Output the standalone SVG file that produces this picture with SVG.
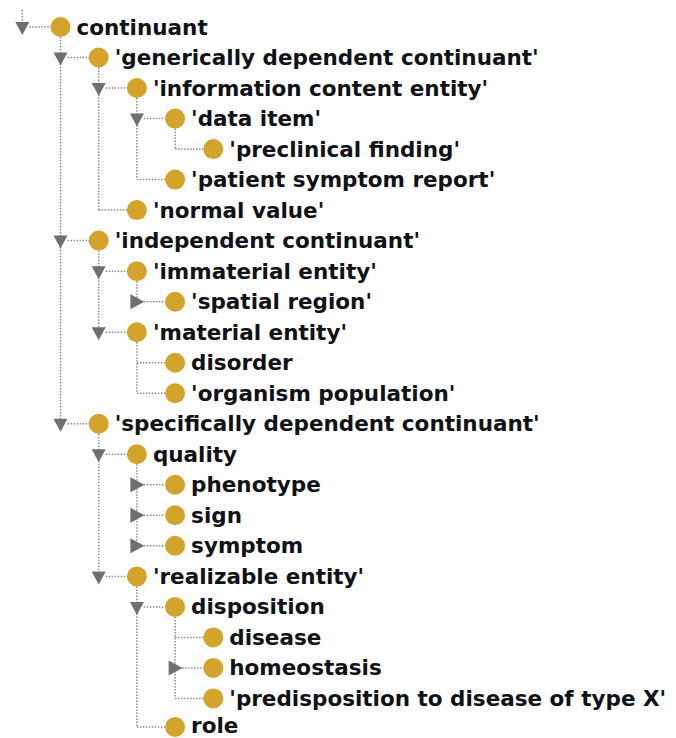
<svg xmlns="http://www.w3.org/2000/svg" width="676" height="738" viewBox="0 0 676 738">
<style>
.bg{fill:#ffffff}
.dot{fill:none;stroke:#8c8c8c;stroke-width:1.5;stroke-dasharray:1.5 1.5}
.tri{fill:#707070}
.cls{fill:#d3a42c}
.lbl{font-family:"DejaVu Sans",Verdana,sans-serif;font-weight:bold;font-size:21.5px;fill:#111118}
</style>
<rect class="bg" x="0" y="0" width="676" height="738"/>
<g id="connectors">
<path class="dot" d="M22.3 10V23"/>
<path class="dot" d="M60.5 37V423.8"/>
<path class="dot" d="M98.7 67.5V210.1"/>
<path class="dot" d="M136.9 98V179.6"/>
<path class="dot" d="M175.1 128.6V149.1"/>
<path class="dot" d="M98.7 250.6V332.2"/>
<path class="dot" d="M136.9 281.2V301.7"/>
<path class="dot" d="M136.9 342.2V393.2"/>
<path class="dot" d="M98.7 433.8V576.4"/>
<path class="dot" d="M136.9 464.3V545.8"/>
<path class="dot" d="M136.9 586.4V727"/>
<path class="dot" d="M175.1 616.9V698.4"/>
<path class="dot" d="M29.3 27H51"/>
<path class="dot" d="M67.5 57.5H89.2"/>
<path class="dot" d="M105.7 88H127.4"/>
<path class="dot" d="M143.9 118.6H165.6"/>
<path class="dot" d="M175.1 149.1H203.8"/>
<path class="dot" d="M136.9 179.6H165.6"/>
<path class="dot" d="M98.7 210.1H127.4"/>
<path class="dot" d="M67.5 240.6H89.2"/>
<path class="dot" d="M105.7 271.2H127.4"/>
<path class="dot" d="M143.9 301.7H165.6"/>
<path class="dot" d="M105.7 332.2H127.4"/>
<path class="dot" d="M136.9 362.7H165.6"/>
<path class="dot" d="M136.9 393.2H165.6"/>
<path class="dot" d="M67.5 423.8H89.2"/>
<path class="dot" d="M105.7 454.3H127.4"/>
<path class="dot" d="M143.9 484.8H165.6"/>
<path class="dot" d="M143.9 515.3H165.6"/>
<path class="dot" d="M143.9 545.8H165.6"/>
<path class="dot" d="M105.7 576.4H127.4"/>
<path class="dot" d="M143.9 606.9H165.6"/>
<path class="dot" d="M175.1 637.4H203.8"/>
<path class="dot" d="M182.1 667.9H203.8"/>
<path class="dot" d="M175.1 698.4H203.8"/>
<path class="dot" d="M136.9 727H165.6"/>
</g>
<g id="n-continuant"><polygon class="tri" points="15.3,22 29.3,22 22.3,35"/><circle class="cls" cx="60.5" cy="27" r="10"/><text class="lbl" x="76.5" y="34.5">continuant</text></g>
<g id="n-generically-dependent-continuant"><polygon class="tri" points="53.5,52.5 67.5,52.5 60.5,65.5"/><circle class="cls" cx="98.7" cy="57.5" r="10"/><text class="lbl" x="114.7" y="65">'generically dependent continuant'</text></g>
<g id="n-information-content-entity"><polygon class="tri" points="91.7,83 105.7,83 98.7,96"/><circle class="cls" cx="136.9" cy="88" r="10"/><text class="lbl" x="152.9" y="95.5">'information content entity'</text></g>
<g id="n-data-item"><polygon class="tri" points="129.9,113.6 143.9,113.6 136.9,126.6"/><circle class="cls" cx="175.1" cy="118.6" r="10"/><text class="lbl" x="191.1" y="126.1">'data item'</text></g>
<g id="n-preclinical-finding"><circle class="cls" cx="213.3" cy="149.1" r="10"/><text class="lbl" x="229.3" y="156.6">'preclinical finding'</text></g>
<g id="n-patient-symptom-report"><circle class="cls" cx="175.1" cy="179.6" r="10"/><text class="lbl" x="191.1" y="187.1">'patient symptom report'</text></g>
<g id="n-normal-value"><circle class="cls" cx="136.9" cy="210.1" r="10"/><text class="lbl" x="152.9" y="217.6">'normal value'</text></g>
<g id="n-independent-continuant"><polygon class="tri" points="53.5,235.6 67.5,235.6 60.5,248.6"/><circle class="cls" cx="98.7" cy="240.6" r="10"/><text class="lbl" x="114.7" y="248.1">'independent continuant'</text></g>
<g id="n-immaterial-entity"><polygon class="tri" points="91.7,266.2 105.7,266.2 98.7,279.2"/><circle class="cls" cx="136.9" cy="271.2" r="10"/><text class="lbl" x="152.9" y="278.7">'immaterial entity'</text></g>
<g id="n-spatial-region"><polygon class="tri" points="130.4,294.2 130.4,309.2 144.4,301.7"/><circle class="cls" cx="175.1" cy="301.7" r="10"/><text class="lbl" x="191.1" y="309.2">'spatial region'</text></g>
<g id="n-material-entity"><polygon class="tri" points="91.7,327.2 105.7,327.2 98.7,340.2"/><circle class="cls" cx="136.9" cy="332.2" r="10"/><text class="lbl" x="152.9" y="339.7">'material entity'</text></g>
<g id="n-disorder"><circle class="cls" cx="175.1" cy="362.7" r="10"/><text class="lbl" x="191.1" y="370.2">disorder</text></g>
<g id="n-organism-population"><circle class="cls" cx="175.1" cy="393.2" r="10"/><text class="lbl" x="191.1" y="400.7">'organism population'</text></g>
<g id="n-specifically-dependent-continuant"><polygon class="tri" points="53.5,418.8 67.5,418.8 60.5,431.8"/><circle class="cls" cx="98.7" cy="423.8" r="10"/><text class="lbl" x="114.7" y="431.3">'specifically dependent continuant'</text></g>
<g id="n-quality"><polygon class="tri" points="91.7,449.3 105.7,449.3 98.7,462.3"/><circle class="cls" cx="136.9" cy="454.3" r="10"/><text class="lbl" x="152.9" y="461.8">quality</text></g>
<g id="n-phenotype"><polygon class="tri" points="130.4,477.3 130.4,492.3 144.4,484.8"/><circle class="cls" cx="175.1" cy="484.8" r="10"/><text class="lbl" x="191.1" y="492.3">phenotype</text></g>
<g id="n-sign"><polygon class="tri" points="130.4,507.8 130.4,522.8 144.4,515.3"/><circle class="cls" cx="175.1" cy="515.3" r="10"/><text class="lbl" x="191.1" y="522.8">sign</text></g>
<g id="n-symptom"><polygon class="tri" points="130.4,538.3 130.4,553.3 144.4,545.8"/><circle class="cls" cx="175.1" cy="545.8" r="10"/><text class="lbl" x="191.1" y="553.3">symptom</text></g>
<g id="n-realizable-entity"><polygon class="tri" points="91.7,571.4 105.7,571.4 98.7,584.4"/><circle class="cls" cx="136.9" cy="576.4" r="10"/><text class="lbl" x="152.9" y="583.9">'realizable entity'</text></g>
<g id="n-disposition"><polygon class="tri" points="129.9,601.9 143.9,601.9 136.9,614.9"/><circle class="cls" cx="175.1" cy="606.9" r="10"/><text class="lbl" x="191.1" y="614.4">disposition</text></g>
<g id="n-disease"><circle class="cls" cx="213.3" cy="637.4" r="10"/><text class="lbl" x="229.3" y="644.9">disease</text></g>
<g id="n-homeostasis"><polygon class="tri" points="168.6,660.4 168.6,675.4 182.6,667.9"/><circle class="cls" cx="213.3" cy="667.9" r="10"/><text class="lbl" x="229.3" y="675.4">homeostasis</text></g>
<g id="n-predisposition"><circle class="cls" cx="213.3" cy="698.4" r="10"/><text class="lbl" x="229.3" y="705.9">'predisposition to disease of type X'</text></g>
<g id="n-role"><circle class="cls" cx="175.1" cy="727" r="10"/><text class="lbl" x="191.1" y="732.5">role</text></g>
</svg>
